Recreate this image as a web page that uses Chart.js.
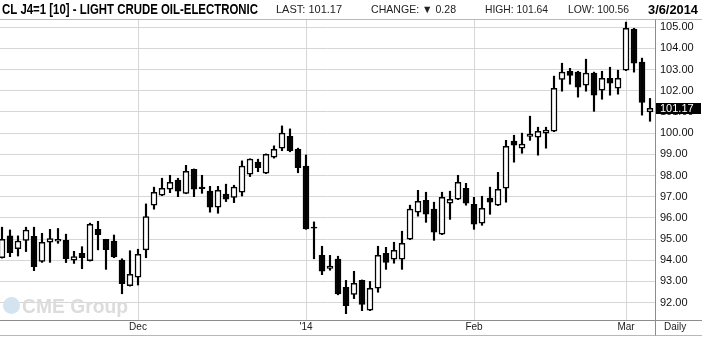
<!DOCTYPE html>
<html>
<head>
<meta charset="utf-8">
<script src="https://cdn.jsdelivr.net/npm/chart.js@4.4.0/dist/chart.umd.min.js"></script>
<style>
  html, body { margin: 0; padding: 0; background: #fff; }
</style>
</head>
<body>
<canvas id="crude" width="702" height="337"></canvas>
<script>
// daily OHLC, one per trading session (index 0 = first visible bar, 81 = 3/6/2014)
const opens = [94.12, 95.15, 94.55, 94.94, 95.13, 93.95, 94.85, 94.90, 94.94, 94.00,
  94.33, 93.98, 95.46, 94.99, 94.91, 94.01, 92.80, 93.20, 94.49, 96.60,
  97.07, 97.35, 97.78, 97.16, 98.29, 97.45, 97.26, 96.50, 97.12, 96.97,
  97.21, 98.06, 98.63, 98.11, 98.86, 99.29, 99.85, 99.24, 98.45, 95.56,
  94.23, 93.62, 94.05, 92.72, 92.39, 93.05, 91.64, 92.68, 94.33, 94.05,
  94.05, 94.99, 96.27, 96.83, 96.41, 95.23, 96.69, 96.88, 97.40, 96.64,
  95.75, 96.93, 96.60, 97.40, 99.62, 99.29, 99.85, 99.81, 100.00, 100.09,
  102.54, 102.92, 102.88, 102.26, 102.83, 102.03, 102.59, 102.12, 102.97, 104.91,
  103.35, 101.00];
const highs = [95.56, 95.43, 95.15, 95.56, 95.56, 95.27, 95.46, 95.50, 95.23, 94.42,
  94.64, 95.75, 95.84, 94.99, 95.19, 94.07, 94.45, 94.52, 96.66, 97.45,
  97.87, 98.01, 97.87, 98.48, 98.31, 98.01, 97.49, 97.49, 97.59, 97.54,
  98.69, 98.79, 98.77, 99.02, 99.40, 100.34, 100.20, 99.29, 98.97, 95.81,
  94.66, 94.23, 94.19, 93.05, 93.48, 93.07, 93.00, 94.66, 94.61, 94.85,
  95.37, 96.60, 97.30, 97.21, 96.74, 97.21, 97.26, 98.01, 97.63, 96.97,
  97.02, 97.45, 98.15, 99.66, 99.90, 100.00, 100.80, 100.28, 100.28, 102.69,
  103.30, 103.06, 102.92, 103.49, 102.88, 102.92, 103.11, 102.97, 105.24, 104.95,
  103.54, 101.64];
const lows = [94.10, 94.17, 94.20, 94.41, 93.51, 93.90, 93.90, 94.80, 93.89, 93.85,
  93.60, 93.96, 94.49, 93.57, 94.12, 92.42, 92.78, 92.83, 94.12, 96.41,
  97.05, 97.19, 97.00, 97.14, 97.00, 97.16, 96.27, 96.22, 96.77, 96.72,
  97.03, 97.95, 98.18, 98.09, 98.82, 99.17, 99.12, 98.13, 95.46, 94.07,
  93.32, 93.53, 92.37, 91.48, 92.19, 91.62, 91.62, 92.49, 93.57, 93.86,
  93.57, 94.97, 96.08, 95.79, 94.94, 95.21, 95.93, 96.86, 96.60, 95.46,
  95.65, 96.17, 96.58, 96.74, 98.63, 99.05, 99.66, 98.96, 99.29, 100.07,
  101.98, 102.31, 101.70, 101.98, 101.03, 101.60, 101.79, 101.84, 102.95, 102.88,
  100.85, 100.56];
const closes = [94.99, 94.36, 94.91, 95.42, 93.70, 94.85, 95.02, 94.99, 94.07, 94.17,
  94.12, 95.70, 95.21, 94.50, 94.16, 92.89, 93.34, 94.28, 96.06, 97.21,
  97.40, 97.68, 97.26, 98.20, 97.35, 97.38, 96.50, 97.30, 96.88, 97.45,
  98.45, 98.77, 98.37, 99.00, 99.24, 100.00, 99.17, 98.37, 95.48, 95.52,
  93.48, 93.72, 92.41, 91.86, 92.91, 91.92, 92.68, 94.23, 93.90, 94.47,
  94.80, 96.41, 96.78, 96.17, 95.32, 96.97, 96.88, 97.68, 96.69, 95.70,
  96.45, 96.74, 97.35, 99.38, 99.43, 99.48, 99.95, 100.09, 100.14, 102.12,
  102.88, 102.73, 102.17, 102.83, 101.79, 102.59, 102.36, 102.59, 104.95, 103.30,
  101.45, 101.17];

// first session of each month on the chart
const monthTicks = [17, 38, 59, 78];
const monthLabels = ['Dec', "'14", 'Feb', 'Mar'];
const priceTicks = [92, 93, 94, 95, 96, 97, 98, 99, 100, 101, 102, 103, 104, 105];

const header = {
  title: 'CL J4=1 [10] - LIGHT CRUDE OIL-ELECTRONIC',
  last: 'LAST: 101.17',
  change: 'CHANGE: \u25BC 0.28',
  high: 'HIGH: 101.64',
  low: 'LOW: 100.56',
  date: '3/6/2014'
};

const FONT = "'Liberation Sans', Arial, sans-serif";

const bodies = opens.map((o, i) => ({ x: i, y: [Math.min(o, closes[i]), Math.max(o, closes[i])] }));
const wicks = lows.map((l, i) => ({ x: i, y: [l, highs[i]] }));

const framePlugin = {
  id: 'frame',
  beforeDraw(chart) {
    const c = chart.ctx;
    c.save();
    c.fillStyle = '#fff';
    c.fillRect(0, 0, chart.width, chart.height);
    c.restore();
  },
  beforeDatasetsDraw(chart) {
    // faded CME Group watermark
    const c = chart.ctx;
    c.save();
    c.fillStyle = '#d3e3ef';
    c.beginPath();
    c.arc(11.5, 305.5, 8.5, 0, Math.PI * 2);
    c.fill();
    c.fillStyle = '#dcdcdc';
    c.font = 'bold 21px ' + FONT;
    c.textBaseline = 'alphabetic';
    c.fillText('CME Group', 22, 313, 106);
    c.restore();
  },
  afterDraw(chart) {
    const c = chart.ctx;
    const area = chart.chartArea;
    const y = chart.scales.y;
    c.save();

    // header line + bottom lines
    c.strokeStyle = '#b8b8b8';
    c.lineWidth = 1;
    c.beginPath();
    c.moveTo(0, 19.5); c.lineTo(chart.width, 19.5);
    c.moveTo(0, 335.5); c.lineTo(chart.width, 335.5);
    c.stroke();
    c.strokeStyle = '#8c8c8c';
    c.beginPath();
    c.moveTo(0, area.bottom + 0.5); c.lineTo(chart.width, area.bottom + 0.5);
    c.moveTo(area.right + 0.5, 19.5); c.lineTo(area.right + 0.5, 335.5);
    c.stroke();

    // header texts
    c.textBaseline = 'middle';
    c.fillStyle = '#000';
    c.font = 'bold 14px ' + FONT;
    c.fillText(header.title, 2, 10, 256);
    c.font = '11px ' + FONT;
    c.fillStyle = '#222';
    c.fillText(header.last, 276, 10, 68);
    c.fillText(header.change, 371, 10, 85);
    c.fillText(header.high, 485, 10, 63);
    c.fillText(header.low, 568, 10, 61);
    c.fillStyle = '#000';
    c.font = 'bold 13px ' + FONT;
    c.fillText(header.date, 648, 10, 50);

    // last price tag on the axis
    const last = closes[closes.length - 1];
    const py = Math.round(y.getPixelForValue(last));
    c.fillStyle = '#000';
    c.fillRect(area.right + 1, py - 5, 45, 11);
    c.fillStyle = '#fff';
    c.font = '11px ' + FONT;
    c.fillText(last.toFixed(2), area.right + 5, py + 0.5);

    // interval label
    c.fillStyle = '#222';
    c.font = '10px ' + FONT;
    c.fillText('Daily', 664, 327.5);
    c.restore();
  }
};

const config = {
  type: 'bar',
  data: {
    datasets: [
      {
        label: 'body',
        data: bodies,
        backgroundColor: (ctx) => closes[ctx.dataIndex] >= opens[ctx.dataIndex] ? '#fff' : '#000',
        borderColor: '#000',
        borderWidth: 1.5,
        borderSkipped: false,
        barThickness: 6,
        grouped: false
      },
      {
        label: 'wick',
        data: wicks,
        backgroundColor: '#000',
        borderWidth: 0,
        barThickness: 1.5,
        grouped: false
      }
    ]
  },
  options: {
    responsive: false,
    animation: false,
    events: [],
    layout: { padding: { top: 20, left: 0, right: 0, bottom: 0 }, autoPadding: false },
    plugins: {
      legend: { display: false },
      tooltip: { enabled: false }
    },
    scales: {
      x: {
        type: 'linear',
        min: -0.25,
        max: 81.625,
        offset: false,
        afterBuildTicks: (axis) => { axis.ticks = monthTicks.map(v => ({ value: v })); },
        afterFit: (axis) => { axis.height = 17; },
        grid: { color: '#d6d6d6', lineWidth: 1, drawTicks: false, offset: false },
        border: { display: false },
        ticks: {
          autoSkip: false,
          maxRotation: 0,
          padding: 1,
          color: '#222',
          font: { family: FONT, size: 10 },
          callback: (v) => monthLabels[monthTicks.indexOf(v)]
        }
      },
      y: {
        type: 'linear',
        position: 'right',
        min: 91.18,
        max: 105.34,
        afterBuildTicks: (axis) => { axis.ticks = priceTicks.map(v => ({ value: v })); },
        afterFit: (axis) => { axis.width = 47; },
        grid: { color: '#d6d6d6', lineWidth: 1, drawTicks: false },
        border: { display: false },
        ticks: {
          padding: 5,
          color: '#111',
          font: { family: FONT, size: 11 },
          callback: (v) => Number(v).toFixed(2)
        }
      }
    }
  },
  plugins: [framePlugin]
};

const chart = new Chart(document.getElementById('crude'), config);
</script>
</body>
</html>
